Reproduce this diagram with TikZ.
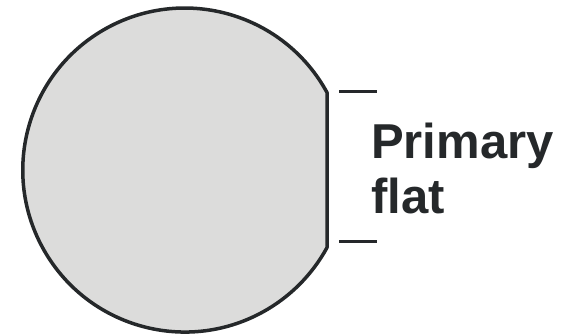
\documentclass[tikz,border=0pt]{standalone}
\usepackage{fontspec}
\setmainfont{Liberation Sans}
\definecolor{wafer}{HTML}{DCDCDB}
\definecolor{ink}{HTML}{25282A}
\begin{document}
\begin{tikzpicture}[x=1pt,y=1pt,
  waferstyle/.style={draw=ink,fill=wafer,line width=3.5pt,line join=round},
  tickstyle/.style={draw=ink,line width=3pt},
  labelstyle/.style={text=ink,font=\fontsize{49}{55}\selectfont\bfseries,align=left,inner sep=0pt}]
\useasboundingbox (0,0) rectangle (561,336);
\coordinate (c) at (185,166);
\coordinate (ft) at (327,243.5);
\coordinate (fb) at (327,88.5);
\path[waferstyle] (ft) arc[start angle=28.6,end angle=331.4,radius=162] -- (fb) -- cycle;
\coordinate (t1a) at (339,244);
\coordinate (t1b) at (377,244);
\coordinate (t2a) at (339,94);
\coordinate (t2b) at (377,94);
\draw[tickstyle] (t1a) -- (t1b);
\draw[tickstyle] (t2a) -- (t2b);
\node[labelstyle,anchor=base west] (lbl) at (371,122) {Primary\\flat};
\end{tikzpicture}
\end{document}
